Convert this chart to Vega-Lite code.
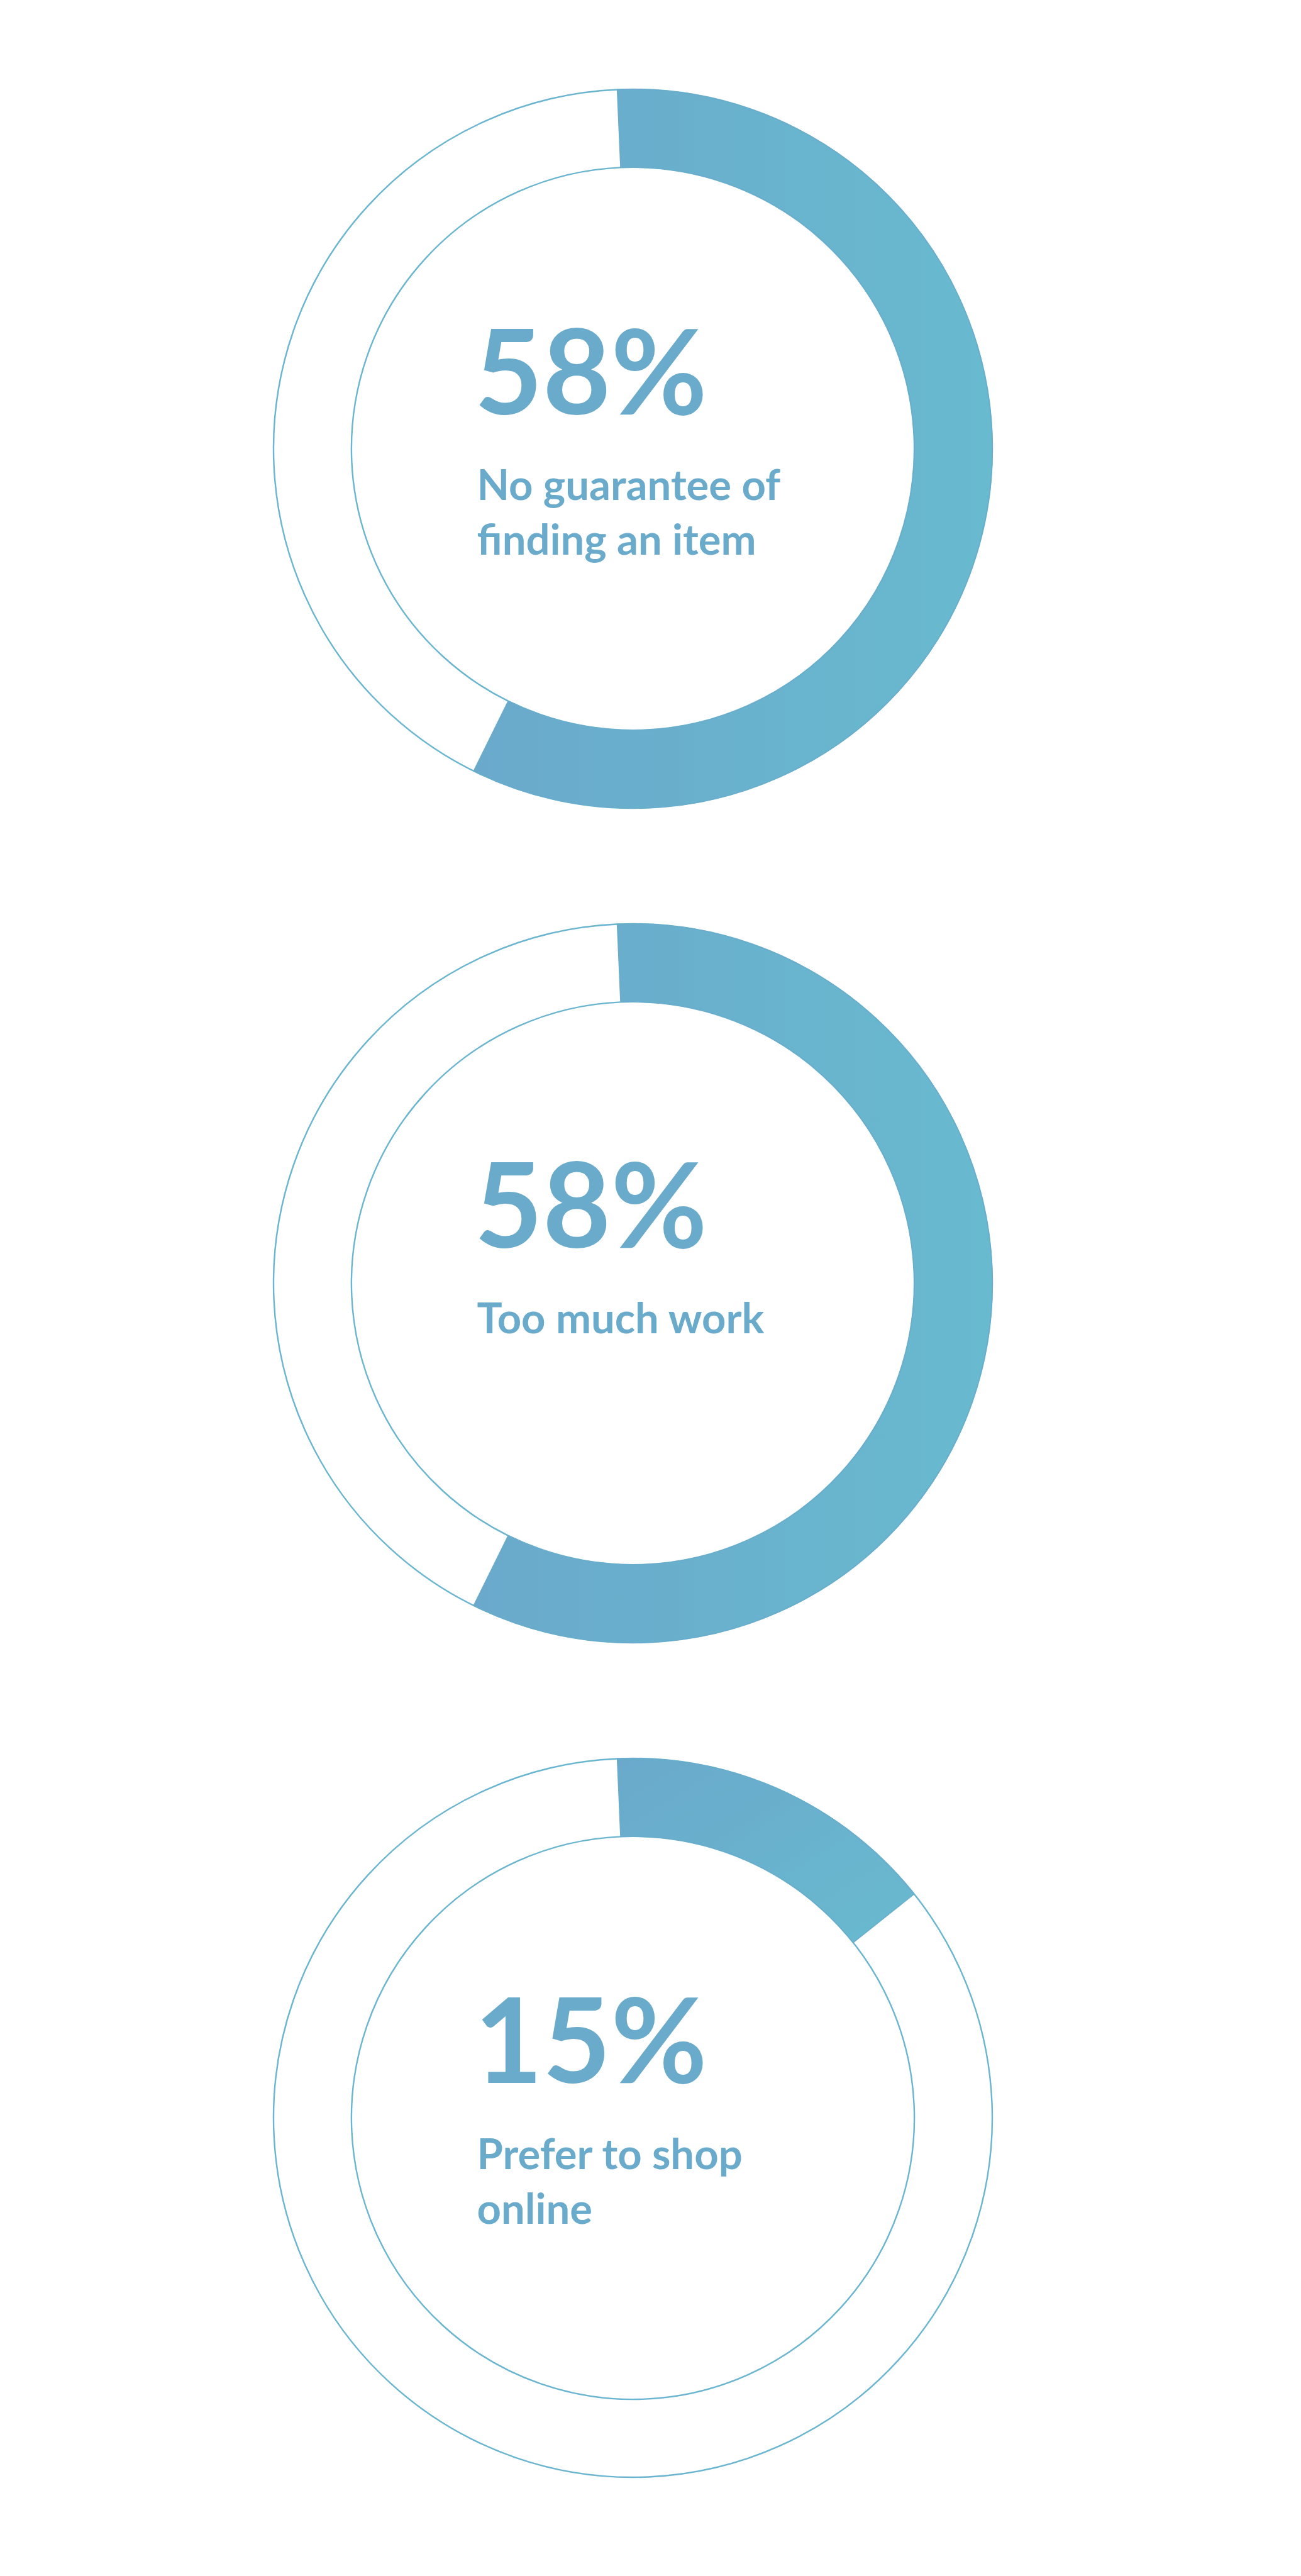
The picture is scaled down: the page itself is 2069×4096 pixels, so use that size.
{
  "$schema": "https://vega.github.io/schema/vega-lite/v6.json",
  "background": "white",
  "padding": {"left": 0, "top": 50, "right": 0, "bottom": 0},
  "autosize": {"type": "pad"},
  "config": {"view": {"stroke": null}},
  "spacing": 0,
  "data": {
    "values": [
      {"row": 1, "pct": 58, "num": "58%", "label": ["No guarantee of", "finding an item"]},
      {"row": 2, "pct": 58, "num": "58%", "label": ["Too much work"]},
      {"row": 3, "pct": 15, "num": "15%", "label": ["Prefer to shop", "\u2008online"]}
    ]
  },
  "vconcat": [
    {
      "width": 2013, "height": 1327,
      "transform": [{"filter": "datum.row == 1"}],
      "layer": [
        {"mark": {"type": "arc", "theta": -0.0436, "theta2": 6.2396, "outerRadius": 571.5, "innerRadius": 447.6, "fill": null, "filled": false, "stroke": "#6ab5d0", "strokeWidth": 2.4}, "encoding": {}},
        {"mark": {"type": "arc", "outerRadius": 571.5, "innerRadius": 447.6, "fill": {"gradient": "linear", "x1": 0, "y1": 0, "x2": 1, "y2": 0, "stops": [{"offset": 0, "color": "#6aa9cb"}, {"offset": 1, "color": "#68bacf"}]}, "stroke": "#6aaccc", "strokeWidth": 1.5},
         "encoding": {"theta": {"field": "pct", "type": "quantitative", "scale": {"domain": [0, 100], "range": [-0.0436, 6.2396]}}}},
        {"mark": {"type": "text", "align": "left", "baseline": "alphabetic", "dx": -252, "dy": -55, "font": "Lato", "fontWeight": "bold", "fontSize": 187, "color": "#6aabcc"}, "encoding": {"text": {"field": "num"}}},
        {"mark": {"type": "text", "align": "left", "baseline": "alphabetic", "dx": -248, "dy": 81, "font": "Lato", "fontWeight": "bold", "fontSize": 67, "lineHeight": 87.6, "color": "#6aabcc"}, "encoding": {"text": {"field": "label"}}}
      ]
    },
    {
      "width": 2013, "height": 1327,
      "transform": [{"filter": "datum.row == 2"}],
      "layer": [
        {"mark": {"type": "arc", "theta": -0.0436, "theta2": 6.2396, "outerRadius": 571.5, "innerRadius": 447.6, "fill": null, "filled": false, "stroke": "#6ab5d0", "strokeWidth": 2.4}, "encoding": {}},
        {"mark": {"type": "arc", "outerRadius": 571.5, "innerRadius": 447.6, "fill": {"gradient": "linear", "x1": 0, "y1": 0, "x2": 1, "y2": 0, "stops": [{"offset": 0, "color": "#6aa9cb"}, {"offset": 1, "color": "#68bacf"}]}, "stroke": "#6aaccc", "strokeWidth": 1.5},
         "encoding": {"theta": {"field": "pct", "type": "quantitative", "scale": {"domain": [0, 100], "range": [-0.0436, 6.2396]}}}},
        {"mark": {"type": "text", "align": "left", "baseline": "alphabetic", "dx": -252, "dy": -57, "font": "Lato", "fontWeight": "bold", "fontSize": 187, "color": "#6aabcc"}, "encoding": {"text": {"field": "num"}}},
        {"mark": {"type": "text", "align": "left", "baseline": "alphabetic", "dx": -248, "dy": 79, "font": "Lato", "fontWeight": "bold", "fontSize": 67, "lineHeight": 87.6, "color": "#6aabcc"}, "encoding": {"text": {"field": "label"}}}
      ]
    },
    {
      "width": 2013, "height": 1327,
      "transform": [{"filter": "datum.row == 3"}],
      "layer": [
        {"mark": {"type": "arc", "theta": -0.0436, "theta2": 6.2396, "outerRadius": 571.5, "innerRadius": 447.6, "fill": null, "filled": false, "stroke": "#6ab5d0", "strokeWidth": 2.4}, "encoding": {}},
        {"mark": {"type": "arc", "outerRadius": 571.5, "innerRadius": 447.6, "fill": {"gradient": "linear", "x1": 0, "y1": 0, "x2": 1, "y2": 1, "stops": [{"offset": 0, "color": "#6aa9cb"}, {"offset": 1, "color": "#68bacf"}]}, "stroke": "#6aaccc", "strokeWidth": 1.5},
         "encoding": {"theta": {"field": "pct", "type": "quantitative", "scale": {"domain": [0, 100], "range": [-0.0436, 6.2396]}}}},
        {"mark": {"type": "text", "align": "left", "baseline": "alphabetic", "dx": -252, "dy": -56, "font": "Lato", "fontWeight": "bold", "fontSize": 187, "color": "#6aabcc"}, "encoding": {"text": {"field": "num"}}},
        {"mark": {"type": "text", "align": "left", "baseline": "alphabetic", "dx": -248, "dy": 81, "font": "Lato", "fontWeight": "bold", "fontSize": 67, "lineHeight": 87.6, "color": "#6aabcc"}, "encoding": {"text": {"field": "label"}}}
      ]
    }
  ]
}
